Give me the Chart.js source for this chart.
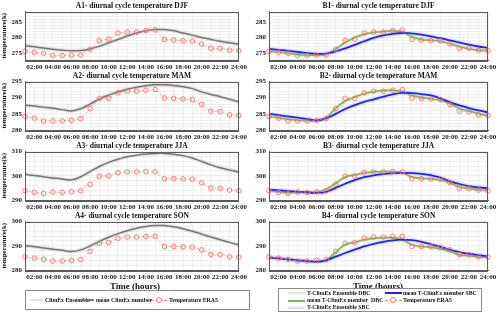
<!DOCTYPE html>
<html>
<head>
<meta charset="utf-8">
<script src="https://cdn.jsdelivr.net/npm/chart.js@4.4.0/dist/chart.umd.min.js"></script>
<style>
body { margin:0; width:500px; height:316px; position:relative; overflow:hidden; background:#fff;
  font-family:"Liberation Serif", serif; font-weight:bold; color:#111; }
canvas { position:absolute; }
.lg { position:absolute; border:1px solid #8a8a8a; background:#fff; }
.tx { position:absolute; font-size:5.8px; line-height:8px; white-space:nowrap; }
.ln { position:absolute; height:0; }
.mk { position:absolute; width:4px; height:4px; border:1px solid #ff7070; border-radius:50%; background:#fff; }
.xt { position:absolute; font-size:9px; line-height:10px; width:120px; text-align:center; }
</style>
</head>
<body>
<canvas id="a1" width="250" height="72" style="left:0;top:0"></canvas>
<canvas id="a2" width="250" height="72" style="left:0;top:70px"></canvas>
<canvas id="a3" width="250" height="72" style="left:0;top:140px"></canvas>
<canvas id="a4" width="250" height="72" style="left:0;top:210px"></canvas>
<canvas id="b1" width="250" height="72" style="left:250px;top:0"></canvas>
<canvas id="b2" width="250" height="72" style="left:250px;top:70px"></canvas>
<canvas id="b3" width="250" height="72" style="left:250px;top:140px"></canvas>
<canvas id="b4" width="250" height="72" style="left:250px;top:210px"></canvas>

<div class="xt" style="left:75px;top:281px">Time (hours)</div>
<div class="xt" style="left:318px;top:281px">Time (hours)</div>

<div class="lg" style="left:25px;top:290px;width:223px;height:18px"></div>
<div class="ln" style="left:30px;top:299px;width:13px;border-top:2px solid #e2e2e2"></div>
<div class="tx" style="left:45px;top:296px">ClimEx Ensemble</div>
<div class="ln" style="left:80px;top:299px;width:14px;border-top:2px solid #777"></div>
<div class="tx" style="left:96px;top:296px">mean ClimEx member</div>
<div class="ln" style="left:151px;top:300px;width:16px;border-top:1px dashed #ff8080"></div>
<div class="mk" style="left:156px;top:297px"></div>
<div class="tx" style="left:169px;top:296px">Temperature ERA5</div>

<div class="lg" style="left:278px;top:288px;width:202px;height:22px"></div>
<div class="ln" style="left:288px;top:292px;width:17px;border-top:2px solid #d8f0cc"></div>
<div class="tx" style="left:307px;top:289px">T-ClimEx Ensemble DBC</div>
<div class="ln" style="left:288px;top:300px;width:17px;border-top:2px solid #6fbf3a"></div>
<div class="tx" style="left:307px;top:296px">mean T-ClimEx member&nbsp; DBC</div>
<div class="ln" style="left:288px;top:307px;width:17px;border-top:2px solid #dcdcff"></div>
<div class="tx" style="left:307px;top:303px">T-ClimEx Ensemble SBC</div>
<div class="ln" style="left:385px;top:292px;width:17px;border-top:2px solid #1f1fff"></div>
<div class="tx" style="left:403px;top:289px">mean T-ClimEx member SBC</div>
<div class="ln" style="left:385px;top:300px;width:17px;border-top:1px dashed #ff8080"></div>
<div class="mk" style="left:390px;top:297px"></div>
<div class="tx" style="left:403px;top:296px">Temperature ERA5</div>

<script>
// hours of the day
var hours = [1, 2, 3, 4, 5, 6, 7, 8, 9, 10, 11, 12, 13, 14, 15, 16, 17, 18, 19, 20, 21, 22, 23, 24];
var xTickHours = [2, 4, 6, 8, 10, 12, 14, 16, 18, 20, 22, 24];
var xTickLabels = ['02:00', '04:00', '06:00', '08:00', '10:00', '12:00', '14:00', '16:00', '18:00', '20:00', '22:00', '24:00'];

// ERA5 temperature
var era5DJF = [275.5, 275.2, 274.9, 274.2, 274.2, 274.3, 274.3, 276.2, 279.0, 279.5, 281.5, 281.8, 281.8, 282.3, 282.5, 279.4, 279.2, 279.0, 278.9, 277.9, 276.5, 276.5, 275.9, 275.7];
var era5MAM = [284.2, 283.7, 282.8, 282.8, 282.8, 283.0, 283.5, 286.6, 289.8, 289.8, 291.5, 292.0, 292.0, 292.3, 292.5, 289.9, 289.8, 289.6, 289.4, 287.9, 285.8, 285.7, 284.7, 284.5];
var era5JJA = [293.8, 293.1, 292.7, 293.3, 293.1, 293.4, 293.8, 296.5, 299.8, 299.9, 301.3, 301.6, 301.6, 301.7, 301.6, 298.8, 298.8, 298.7, 298.6, 297.1, 294.9, 294.8, 294.1, 293.8];
var era5SON = [285.4, 284.9, 284.4, 283.7, 283.7, 284.0, 284.3, 287.7, 291.0, 291.3, 293.1, 293.6, 293.6, 293.9, 293.9, 289.7, 289.7, 289.6, 289.4, 288.3, 286.4, 286.3, 285.4, 285.3];

// mean ClimEx member (raw)
var meanDJF = [277.4, 277.0, 276.6, 276.2, 275.9, 275.7, 275.8, 276.3, 277.2, 278.3, 279.4, 280.5, 281.5, 282.2, 282.6, 282.6, 282.2, 281.5, 280.8, 280.0, 279.4, 278.8, 278.3, 277.8];
var meanMAM = [287.7, 287.4, 287.0, 286.7, 286.3, 285.9, 286.6, 288.0, 289.6, 290.8, 291.8, 292.6, 293.2, 293.7, 294.0, 294.0, 293.8, 293.4, 292.8, 291.8, 291.0, 290.3, 289.5, 288.7];
var meanJJA = [300.6, 300.1, 299.6, 299.1, 298.7, 298.3, 299.6, 301.7, 303.8, 305.5, 306.8, 307.8, 308.5, 309.0, 309.2, 309.2, 308.9, 308.3, 307.3, 305.9, 304.5, 303.3, 302.4, 301.6];
var meanSON = [290.0, 289.6, 289.1, 288.6, 288.1, 287.6, 288.3, 289.9, 291.8, 293.5, 295.0, 296.2, 297.2, 297.9, 298.3, 298.3, 297.8, 297.0, 296.0, 294.8, 293.6, 292.5, 291.4, 290.4];

// mean T-ClimEx member DBC
var dbcDJF = [275.6, 275.3, 274.9, 274.5, 274.3, 274.3, 274.6, 276.3, 278.4, 280.0, 281.1, 281.7, 282.0, 282.2, 281.8, 280.3, 279.4, 279.1, 278.8, 278.0, 277.1, 276.4, 275.9, 275.7];
var dbcMAM = [284.2, 283.8, 283.3, 283.0, 282.9, 282.8, 283.8, 286.7, 288.9, 290.2, 291.2, 291.8, 292.2, 292.3, 291.8, 290.7, 290.0, 289.7, 289.2, 288.2, 286.7, 285.9, 285.1, 284.4];
var dbcJJA = [293.8, 293.4, 293.0, 293.1, 293.1, 293.1, 294.5, 296.8, 299.5, 300.3, 301.2, 301.6, 301.7, 301.7, 301.2, 299.5, 299.0, 298.8, 298.2, 297.1, 295.4, 294.8, 294.2, 293.8];
var dbcSON = [285.2, 284.8, 284.3, 283.8, 283.6, 283.5, 284.0, 287.3, 290.4, 291.4, 292.5, 293.0, 293.3, 293.3, 292.5, 290.4, 289.7, 289.4, 288.7, 287.7, 286.2, 285.9, 285.4, 285.2];

// mean T-ClimEx member SBC
var sbcDJF = [276.3, 276.0, 275.7, 275.3, 275.0, 274.7, 274.8, 275.5, 276.5, 277.6, 278.8, 279.9, 280.7, 281.2, 281.5, 281.4, 281.0, 280.4, 279.8, 279.1, 278.4, 277.7, 277.1, 276.6];
var sbcMAM = [285.0, 284.6, 284.2, 283.8, 283.4, 283.0, 283.6, 285.0, 286.5, 287.7, 288.7, 289.5, 290.3, 291.0, 291.5, 291.4, 291.1, 290.7, 289.8, 288.6, 287.6, 286.8, 286.1, 285.5];
var sbcJJA = [294.3, 294.0, 293.7, 293.4, 293.2, 293.0, 293.4, 295.0, 296.7, 298.2, 299.4, 300.2, 300.7, 301.0, 301.2, 301.1, 300.8, 300.3, 299.2, 297.8, 296.6, 295.7, 295.2, 294.8];
var sbcSON = [285.2, 284.8, 284.4, 284.0, 283.7, 283.4, 284.0, 285.5, 287.0, 288.4, 289.7, 290.8, 291.6, 292.2, 292.5, 292.3, 291.6, 290.6, 289.5, 288.4, 287.4, 286.7, 286.1, 285.6];

// y tick labels per season
var yLabelsDJF = [275, 280, 285];
var yLabelsMAM = [280, 285, 290, 295];
var yLabelsJJA = [290, 300, 310];
var yLabelsSON = [280, 290, 300];

var serif = 'Liberation Serif';

function pts(arr) {
  return arr.map(function (v, i) { return { x: hours[i], y: v }; });
}

var frame = {
  id: 'frame',
  afterDraw: function (c) {
    var a = c.chartArea, ctx = c.ctx;
    ctx.save();
    ctx.strokeStyle = '#5a5a5a';
    ctx.lineWidth = 1;
    ctx.strokeRect(Math.round(a.left) + 0.5, Math.round(a.top) + 0.5, Math.round(a.width) - 1, Math.round(a.height));
    ctx.restore();
  }
};

function era5Set(arr) {
  return {
    data: pts(arr), borderColor: '#ff8a8a', borderWidth: 0.8, borderDash: [2, 2],
    pointRadius: 2.3, pointBorderColor: '#ff6b6b', pointBackgroundColor: 'rgba(255,255,255,0)',
    pointBorderWidth: 0.9, tension: 0, clip: 6
  };
}

function lineSet(arr, color, width) {
  return { data: pts(arr), borderColor: color, borderWidth: width, pointRadius: 0, tension: 0.4 };
}

function panel(id, title, yMin, yMax, yStep, yLabels, datasets, left) {
  var grid = [];
  for (var v = Math.ceil(yMin); v <= yMax; v += 1) {
    if ((v - yLabels[0]) % yStep === 0) grid.push(v);
  }
  new Chart(document.getElementById(id), {
    type: 'line',
    data: { datasets: datasets },
    plugins: [frame],
    options: {
      responsive: false,
      animation: false,
      events: [],
      layout: { padding: { left: 0, right: left ? 5 : 12, top: 0, bottom: 0 } },
      plugins: {
        legend: { display: false },
        tooltip: { enabled: false },
        title: {
          display: true, text: title, fullSize: false, color: '#111',
          font: { family: serif, size: 7.5, weight: 'bold', lineHeight: 1.2 },
          padding: { top: 1.5, bottom: 1 }
        }
      },
      scales: {
        x: {
          type: 'linear', min: 1, max: 24,
          afterBuildTicks: function (s) { s.ticks = hours.map(function (h) { return { value: h }; }); },
          afterFit: function (s) { s.height = 12; },
          grid: { color: '#ececec', lineWidth: 0.8, drawTicks: false },
          border: { color: '#5a5a5a' },
          ticks: {
            autoSkip: false, maxRotation: 0, padding: 3, color: '#222',
            font: { family: serif, size: 7, weight: 'bold' },
            callback: function (v) {
              var k = xTickHours.indexOf(v);
              return k >= 0 ? xTickLabels[k] : '';
            }
          }
        },
        y: {
          min: yMin, max: yMax,
          afterBuildTicks: function (s) { s.ticks = grid.map(function (g) { return { value: g }; }); },
          afterFit: function (s) { s.width = left ? 25 : 19; },
          grid: { color: '#ececec', lineWidth: 0.8, drawTicks: false },
          border: { color: '#5a5a5a' },
          title: {
            display: left, text: 'temperature(k)', color: '#111', padding: 0,
            font: { family: serif, size: 7, weight: 'bold' }
          },
          ticks: {
            autoSkip: false, padding: 3, color: '#222',
            font: { family: serif, size: 7, weight: 'bold' },
            callback: function (v) { return yLabels.indexOf(v) >= 0 ? String(v) : ''; }
          }
        }
      }
    }
  });
}

function setsA(era, mean) {
  return [
    era5Set(era),
    lineSet(mean, '#777777', 1.5),
    lineSet(mean, 'rgba(200,200,200,0.45)', 4)
  ];
}

function setsB(era, dbc, sbc) {
  return [
    era5Set(era),
    lineSet(sbc, '#1f1fff', 1.8),
    lineSet(dbc, '#6fbf3a', 1.5),
    lineSet(sbc, 'rgba(160,160,255,0.25)', 5),
    lineSet(dbc, 'rgba(180,230,150,0.45)', 3.5)
  ];
}

panel('a1', 'A1- diurnal cycle temperature DJF', 272.7, 288.5, 1, yLabelsDJF, setsA(era5DJF, meanDJF), true);
panel('a2', 'A2- diurnal cycle temperature MAM', 280, 295, 1, yLabelsMAM, setsA(era5MAM, meanMAM), true);
panel('a3', 'A3- diurnal cycle temperature JJA', 290, 310, 2, yLabelsJJA, setsA(era5JJA, meanJJA), true);
panel('a4', 'A4- diurnal cycle temperature SON', 280, 300, 2, yLabelsSON, setsA(era5SON, meanSON), true);

panel('b1', 'B1- diurnal cycle temperature DJF', 272.7, 288.5, 1, yLabelsDJF, setsB(era5DJF, dbcDJF, sbcDJF), false);
panel('b2', 'B2- diurnal cycle temperature MAM', 280, 295, 1, yLabelsMAM, setsB(era5MAM, dbcMAM, sbcMAM), false);
panel('b3', 'B3- diurnal cycle temperature JJA', 290, 310, 2, yLabelsJJA, setsB(era5JJA, dbcJJA, sbcJJA), false);
panel('b4', 'B4- diurnal cycle temperature SON', 280, 300, 2, yLabelsSON, setsB(era5SON, dbcSON, sbcSON), false);
</script>
</body>
</html>
